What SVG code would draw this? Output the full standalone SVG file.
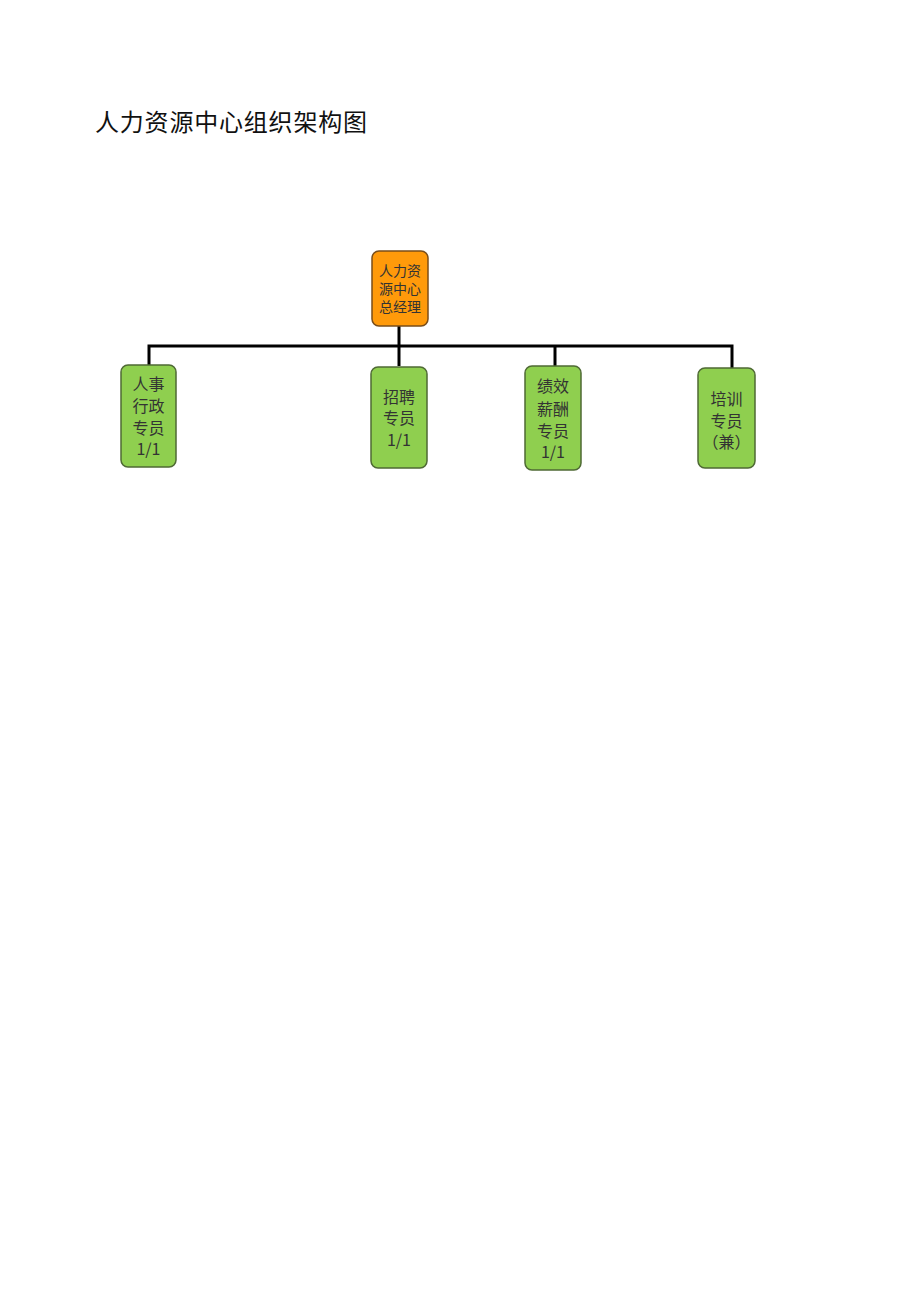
<svg xmlns="http://www.w3.org/2000/svg" width="920" height="1301" viewBox="0 0 920 1301">
<style>
.title{font-family:"Liberation Serif","Noto Sans CJK SC",serif;font-size:24px;fill:#111}
.top rect{fill:#FF9A0A;stroke:#7a4e1a;stroke-width:1.5}
.leaf rect{fill:#8FCF4F;stroke:#4f6a35;stroke-width:1.5}
.t{font-family:"Noto Sans CJK SC",sans-serif;fill:#333;text-anchor:middle;dominant-baseline:central}
.top .t{font-size:14px}
.leaf .t{font-size:16px}
.conn{fill:none;stroke:#000;stroke-width:3}
</style>
<rect width="920" height="1301" fill="#fff"/>
<text class="title" x="95" y="131" textLength="272">人力资源中心组织架构图</text>
<g id="connectors">
<path class="conn" d="M399,326 V366"/>
<path class="conn" d="M149,366 V346 H732 V368"/>
<path class="conn" d="M555,346 V366"/>
</g>
<g id="hr-manager" class="top">
<rect x="372" y="251" width="56" height="75" rx="7"/>
<text class="t" x="400" y="270">人力资</text>
<text class="t" x="400" y="288">源中心</text>
<text class="t" x="400" y="306">总经理</text>
</g>
<g id="admin" class="leaf">
<rect x="121" y="365" width="55" height="102" rx="7"/>
<text class="t" x="148.5" y="383">人事</text>
<text class="t" x="148.5" y="405">行政</text>
<text class="t" x="148.5" y="427">专员</text>
<text class="t" x="148.5" y="448">1/1</text>
</g>
<g id="recruit" class="leaf">
<rect x="371" y="367" width="56" height="101" rx="7"/>
<text class="t" x="399" y="396">招聘</text>
<text class="t" x="399" y="417">专员</text>
<text class="t" x="399" y="439">1/1</text>
</g>
<g id="perf" class="leaf">
<rect x="525" y="366" width="56" height="104" rx="7"/>
<text class="t" x="553" y="385">绩效</text>
<text class="t" x="553" y="408">薪酬</text>
<text class="t" x="553" y="430">专员</text>
<text class="t" x="553" y="451">1/1</text>
</g>
<g id="training" class="leaf">
<rect x="698" y="368" width="57" height="100" rx="7"/>
<text class="t" x="726.5" y="398">培训</text>
<text class="t" x="726.5" y="420">专员</text>
<text class="t" x="726.5" y="441">（兼）</text>
</g>
</svg>
